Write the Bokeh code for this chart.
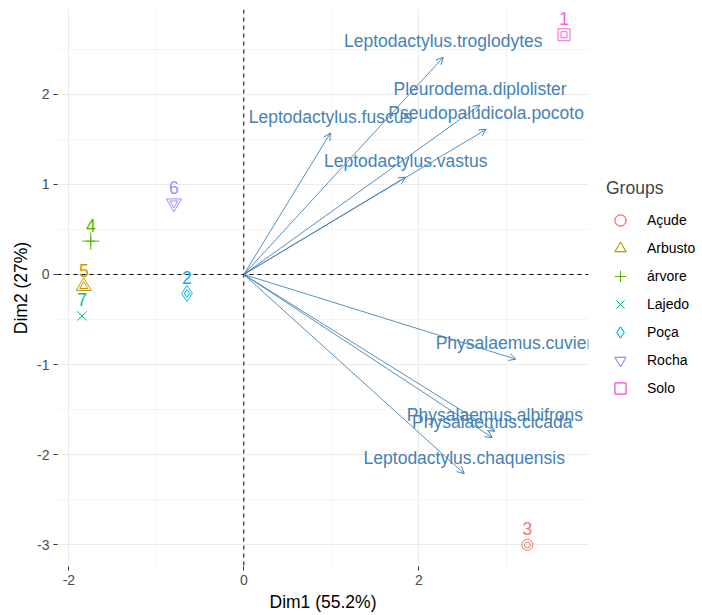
from bokeh.plotting import figure
from bokeh.models import (ColumnDataSource, Range1d, FixedTicker, Span, Arrow,
                          OpenHead, Legend, LegendItem)
from bokeh.core.properties import value
from bokeh.embed import file_html
from bokeh.resources import INLINE

# ---------------- data ----------------
species = ["Leptodactylus.troglodytes", "Pleurodema.diplolister",
           "Pseudopaludicola.pocoto", "Leptodactylus.fuscus",
           "Leptodactylus.vastus", "Physalaemus.cuvieri",
           "Physalaemus.albifrons", "Physalaemus.cicada",
           "Leptodactylus.chaquensis"]
var_dim1 = [2.28, 2.70, 2.77, 0.99, 1.85, 3.11, 2.87, 2.84, 2.52]
var_dim2 = [2.41, 1.88, 1.61, 1.57, 1.08, -0.94, -1.74, -1.81, -2.21]

sites = ["1", "2", "3", "4", "5", "6", "7"]
site_groups = ["Solo", "Poça", "Açude", "árvore", "Arbusto", "Rocha", "Lajedo"]
ind_dim1 = [3.66, -0.65, 3.24, -1.75, -1.83, -0.80, -1.85]
ind_dim2 = [2.66, -0.21, -3.00, 0.37, -0.13, 0.79, -0.46]

groups = ["Açude", "Arbusto", "árvore", "Lajedo", "Poça", "Rocha", "Solo"]
x_ticks = [-2, 0, 2]
y_ticks = [-3, -2, -1, 0, 1, 2]
x_label = "Dim1 (55.2%)"
y_label = "Dim2 (27%)"
legend_title = "Groups"

# ---------------- styles ----------------
group_colors = ["#F8766D", "#C49A00", "#53B400", "#00C094", "#00B6EB", "#A58AFF", "#FB61D7"]
group_markers = ["circle", "triangle", "cross", "x", "diamond", "inverted_triangle", "square"]
small_sizes = {"circle": 6, "triangle": 8, "cross": 9, "x": 7, "diamond": 8,
               "inverted_triangle": 8, "square": 6}
large_sizes = {"circle": 11, "triangle": 15, "cross": 17, "x": 13, "diamond": 16,
               "inverted_triangle": 15, "square": 12}
FONT = "Liberation Sans"
ARROW_COL = "#4682B4"
TXT = "17.5px"

p = figure(frame_width=531, frame_height=557,
           x_range=Range1d(-2.13, 3.94), y_range=Range1d(-3.24, 2.94),
           output_backend="svg", toolbar_location=None,
           min_border_left=57, min_border_top=9, min_border_right=114,
           min_border_bottom=40)
p.outline_line_color = None
p.background_fill_color = "white"

# axes
p.xaxis.ticker = FixedTicker(ticks=x_ticks, minor_ticks=[-1, 1, 3])
p.yaxis.ticker = FixedTicker(ticks=y_ticks, minor_ticks=[-2.5, -1.5, -0.5, 0.5, 1.5, 2.5])
p.xaxis.major_label_overrides = {t: str(t) for t in x_ticks}
p.yaxis.major_label_overrides = {t: str(t) for t in y_ticks}
for ax in (p.xaxis, p.yaxis):
    ax.axis_line_color = None
    ax.minor_tick_line_color = None
    ax.major_tick_line_color = "#333333"
    ax.major_tick_out = 4
    ax.major_tick_in = 0
    ax.major_label_text_font = FONT
    ax.major_label_text_font_size = "14px"
    ax.major_label_text_color = "#4D4D4D"
    ax.axis_label_text_font = FONT
    ax.axis_label_text_font_size = TXT
    ax.axis_label_text_font_style = "normal"
    ax.axis_label_text_color = "black"
p.xaxis.axis_label = x_label
p.yaxis.axis_label = y_label
p.xaxis.major_label_standoff = 4
p.xaxis.axis_label_standoff = 4
p.yaxis.major_label_standoff = 4
p.yaxis.axis_label_standoff = 3

for g in (p.xgrid, p.ygrid):
    g.grid_line_color = "#EBEBEB"
    g.grid_line_width = 1.1
    g.minor_grid_line_color = "#EFEFEF"
    g.minor_grid_line_width = 0.7

p.add_layout(Span(location=0, dimension="height", line_color="black",
                  line_dash="4 4", line_width=1, level="underlay"))
p.add_layout(Span(location=0, dimension="width", line_color="black",
                  line_dash="4 4", line_width=1, level="underlay"))

# variable arrows
vsrc = ColumnDataSource(dict(x0=[0.0] * len(species), y0=[0.0] * len(species),
                             x=var_dim1, y=var_dim2, name=species))
p.add_layout(Arrow(end=OpenHead(size=7, line_color=ARROW_COL, line_width=1),
                   x_start="x0", y_start="y0", x_end="x", y_end="y",
                   source=vsrc, line_color=ARROW_COL, line_width=0.9))
p.text(x="x", y="y", text="name", source=vsrc, text_color=ARROW_COL,
       text_font=value(FONT), text_font_size=TXT, text_align="center",
       text_baseline="middle", y_offset=-16)

# individuals
legend_items = []
for g, col, mk in zip(groups, group_colors, group_markers):
    xs = [x for x, gg in zip(ind_dim1, site_groups) if gg == g]
    ys = [y for y, gg in zip(ind_dim2, site_groups) if gg == g]
    lbl = [s for s, gg in zip(sites, site_groups) if gg == g]
    src = ColumnDataSource(dict(x=xs, y=ys, lab=lbl))
    r1 = p.scatter(x="x", y="y", source=src, marker=mk, size=small_sizes[mk],
                   fill_color=None, line_color=col, line_width=1)
    r2 = p.scatter(x="x", y="y", source=src, marker=mk, size=large_sizes[mk],
                   fill_color=None, line_color=col, line_width=1)
    p.text(x="x", y="y", text="lab", source=src, text_color=col,
           text_font=value(FONT), text_font_size=TXT, text_align="center",
           text_baseline="middle", y_offset=-16)
    legend_items.append(LegendItem(label=g, renderers=[r1, r2]))

legend = Legend(items=legend_items, title=legend_title, location=(18, 164),
                margin=0, padding=4, border_line_color=None,
                background_fill_alpha=0, glyph_width=28, glyph_height=28,
                label_height=28, spacing=0, label_standoff=13,
                title_standoff=7)
legend.title_text_font = FONT
legend.title_text_font_size = TXT
legend.title_text_font_style = "normal"
legend.label_text_font = FONT
legend.label_text_font_size = "14px"
legend.label_text_color = "black"
p.add_layout(legend, "right")

open("out.html", "w").write(file_html(p, INLINE))
